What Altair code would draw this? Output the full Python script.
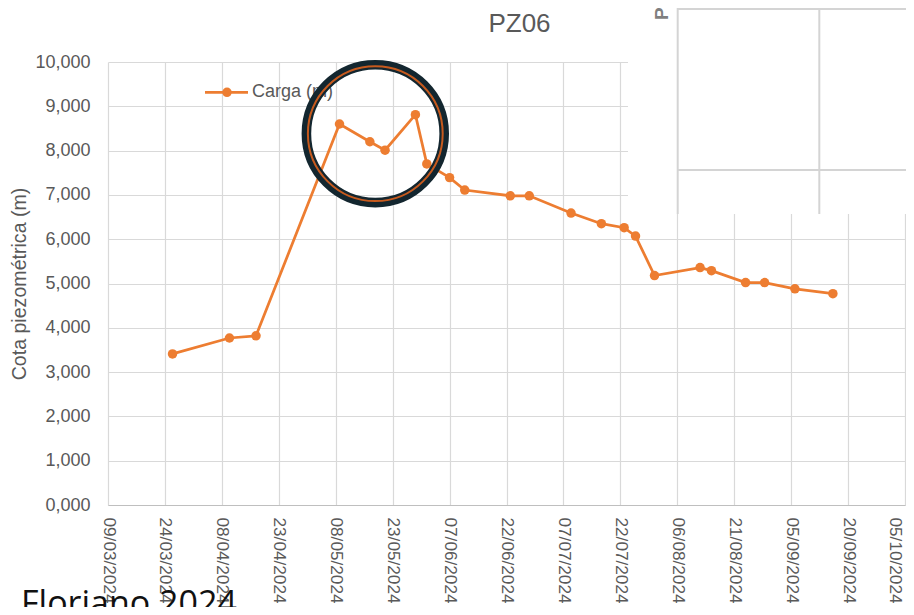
import altair as alt
import pandas as pd

# ---- data ----
dates = ["2024-03-26", "2024-04-10", "2024-04-17", "2024-05-09", "2024-05-17",
         "2024-05-21", "2024-05-29", "2024-06-01", "2024-06-07", "2024-06-11",
         "2024-06-23", "2024-06-28", "2024-07-09", "2024-07-17", "2024-07-23",
         "2024-07-26", "2024-07-31", "2024-08-12", "2024-08-15", "2024-08-24",
         "2024-08-29", "2024-09-06", "2024-09-16"]
carga = [3.41, 3.77, 3.82, 8.60, 8.20, 8.01, 8.81, 7.70, 7.39, 7.11,
         6.98, 6.98, 6.59, 6.35, 6.26, 6.07, 5.18, 5.36, 5.29, 5.02,
         5.02, 4.88, 4.77]
x_tick_labels = ["09/03/2024", "24/03/2024", "08/04/2024", "23/04/2024", "08/05/2024",
                 "23/05/2024", "07/06/2024", "22/06/2024", "07/07/2024", "22/07/2024",
                 "06/08/2024", "21/08/2024", "05/09/2024", "20/09/2024", "05/10/2024"]
y_ticks = [0, 1, 2, 3, 4, 5, 6, 7, 8, 9, 10]
series_name = "Carga (m)"
chart_title = "PZ06"
y_title = "Cota piezométrica (m)"
footer_text = "Floriano 2024"

ORANGE = "#ED7D31"
GRAY_TXT = "#595959"
GRID = "#d9d9d9"
FONT = "Liberation Sans"


def to_dt(lbl):
    d, m, y = lbl.split("/")
    return alt.DateTime(year=int(y), month=int(m), date=int(d), utc=True)


tick_values = [to_dt(t) for t in x_tick_labels]

df = pd.DataFrame({"date": dates, "carga": carga})
one = pd.DataFrame({"label": [series_name]})

W, H = 797, 443

x_enc = alt.X(
    "date:T",
    scale=alt.Scale(type="utc", domain=[tick_values[0], tick_values[-1]]),
    axis=alt.Axis(
        values=tick_values,
        labelExpr="utcFormat(datum.value, '%d/%m/%Y')",
        labelAngle=90, labelAlign="left", labelBaseline="middle",
        labelFlush=False, labelOverlap=False,
        labelFontSize=17.2, labelColor=GRAY_TXT, labelFont=FONT, labelPadding=12,
        labelOffset={"condition": {"test": "datum.index == 1", "value": -11}, "value": 0},
        ticks=False, grid=True, gridColor=GRID, gridWidth=1.2,
        domainColor="#bfbfbf", domainWidth=1.2, title=None,
    ),
)
y_enc = alt.Y(
    "carga:Q",
    scale=alt.Scale(domain=[0, 10], nice=False, zero=True),
    axis=alt.Axis(
        values=y_ticks,
        labelExpr="replace(format(datum.value, '.3f'), '.', ',')",
        labelFontSize=18, labelColor=GRAY_TXT, labelFont=FONT, labelPadding=18,
        ticks=False, domain=False, grid=True, gridColor=GRID, gridWidth=1.2,
        title=y_title, titleFontSize=19.6, titleColor=GRAY_TXT, titleFont=FONT,
        titleFontWeight="normal", titleAngle=-90, titleAlign="center",
        titleBaseline="alphabetic", titleX=-83, titleY=H / 2,
    ),
)

base = alt.Chart(df)
line = base.mark_line(color=ORANGE, strokeWidth=2.75).encode(x=x_enc, y=y_enc)
pts = base.mark_circle(color=ORANGE, size=90, opacity=1).encode(x="date:T", y="carga:Q")

# legend (inside plot, top-left)
leg_line = alt.Chart(one).mark_rule(color=ORANGE, strokeWidth=2.75).encode(
    x=alt.value(97), x2=alt.value(140), y=alt.value(30.3))
leg_pt = alt.Chart(one).mark_circle(color=ORANGE, size=90, opacity=1).encode(
    x=alt.value(119), y=alt.value(30.3))
leg_txt = alt.Chart(one).mark_text(align="left", baseline="middle", fontSize=18,
                                   color=GRAY_TXT, font=FONT).encode(
    x=alt.value(144), y=alt.value(30.3), text="label:N")

# circle annotation
ring_dark = alt.Chart(one).mark_point(shape="circle", filled=False, size=(2 * 68.9) ** 2,
                                      stroke="#13262f", strokeWidth=9.6, opacity=1).encode(
    x=alt.value(267.3), y=alt.value(71.7))
ring_orange = alt.Chart(one).mark_point(shape="circle", filled=False, size=(2 * 67.4) ** 2,
                                        stroke="#c65a1e", strokeWidth=2, opacity=1).encode(
    x=alt.value(267.3), y=alt.value(71.7))

# overlaid screenshot fragment at top-right
cover = alt.Chart(one).mark_rect(color="white").encode(
    x=alt.value(520), x2=alt.value(810), y=alt.value(-70), y2=alt.value(152))
ov_v1 = alt.Chart(one).mark_rule(color="#d4d4d4", strokeWidth=2).encode(
    x=alt.value(569.7), y=alt.value(-70), y2=alt.value(152))
ov_v2 = alt.Chart(one).mark_rule(color="#d4d4d4", strokeWidth=2).encode(
    x=alt.value(711.3), y=alt.value(-70), y2=alt.value(152))
ov_h1 = alt.Chart(one).mark_rule(color="#d4d4d4", strokeWidth=2).encode(
    x=alt.value(569.7), x2=alt.value(810), y=alt.value(-53))
ov_h2 = alt.Chart(one).mark_rule(color="#d4d4d4", strokeWidth=2).encode(
    x=alt.value(569.7), x2=alt.value(810), y=alt.value(108))
ov_p = alt.Chart(one).mark_text(text="P", angle=270, align="left", baseline="alphabetic",
                                fontSize=19, fontWeight="bold", color="#7f7f7f", font=FONT).encode(
    x=alt.value(560), y=alt.value(-42))

title_txt = alt.Chart(one).mark_text(text=chart_title, align="center", baseline="alphabetic",
                                     fontSize=26, color=GRAY_TXT, font=FONT).encode(
    x=alt.value(411.5), y=alt.value(-30.3))
footer = alt.Chart(one).mark_text(text=footer_text, align="left", baseline="alphabetic",
                                  fontSize=34, color="#111111", font="Open Sans").encode(
    x=alt.value(-87), y=alt.value(553))

chart = alt.layer(
    line, pts, leg_line, leg_pt, leg_txt, ring_dark, ring_orange,
    cover, ov_v1, ov_v2, ov_h1, ov_h2, ov_p, title_txt, footer,
).properties(
    width=W, height=H,
    padding={"left": 100, "top": 54, "right": 1, "bottom": 102},
    autosize=alt.AutoSizeParams(type="none"),
    background="white",
).configure_view(stroke=None)

chart.save("out.html", embed_options={"renderer": "svg", "actions": False})
